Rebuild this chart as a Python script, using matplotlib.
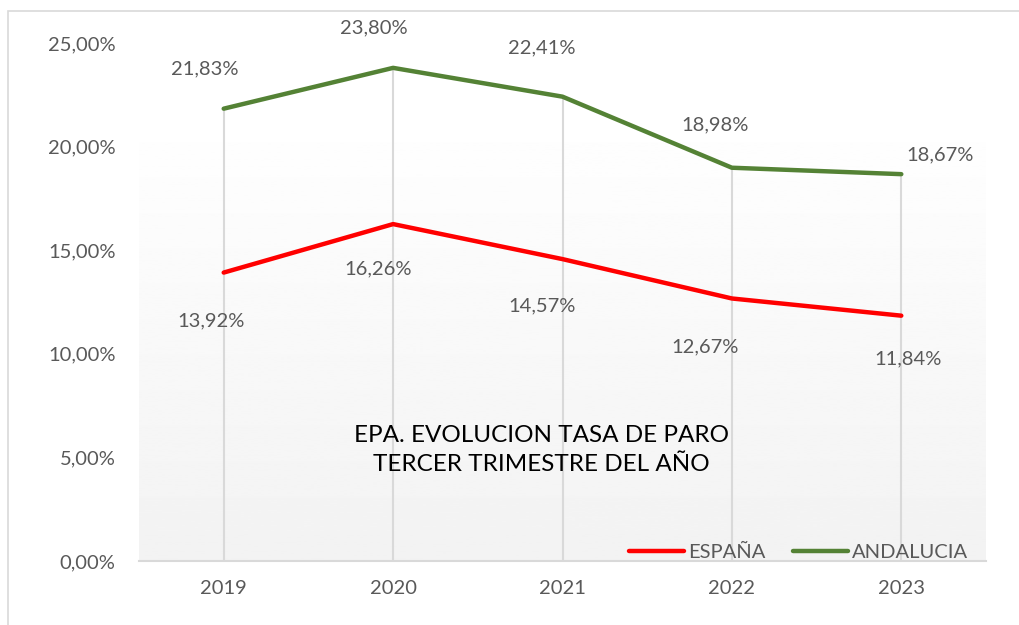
import numpy as np
import matplotlib as mpl
mpl.use('Agg')
import matplotlib.pyplot as plt
from matplotlib.patches import Rectangle

years = ['2019', '2020', '2021', '2022', '2023']
espana = [13.92, 16.26, 14.57, 12.67, 11.84]
andalucia = [21.83, 23.80, 22.41, 18.98, 18.67]

# label offsets in points (dx, dy) relative to each point
esp_off = [(-9, -35), (-11, -32), (-15, -34), (-19, -35), (5, -31)]
and_off = [(-14, 29), (-14, 29), (-15, 35), (-12, 31), (28, 14)]

plt.rcParams['font.family'] = ['Lato', 'DejaVu Sans']
grey = '#595959'

fig = plt.figure(figsize=(10.19, 6.25), dpi=100)
fig.patches.append(Rectangle((8/1019, -0.1), 1.2, 1 - 10.5/625 + 0.1, transform=fig.transFigure,
                             fill=False, edgecolor='#d9d9d9', lw=1.2))
ax = fig.add_axes([139/1019, 1 - 561/625, 847/1019, 518/625])

x = np.arange(len(years))

# gradient background
grad = np.linspace(1.0, 0.95, 256).reshape(-1, 1)
ax.imshow(grad, cmap='gray', vmin=0, vmax=1, extent=(-0.5, 4.5, 0, 21.9),
          aspect='auto', zorder=0)

# drop lines
tops = np.maximum(espana, andalucia)
ax.vlines(x, 0, tops, color='#d9d9d9', lw=1.5, zorder=1)

ax.plot(x, espana, color='#ff0000', lw=3.2, solid_capstyle='round', label='ESPAÑA', zorder=3)
ax.plot(x, andalucia, color='#548235', lw=3.2, solid_capstyle='round', label='ANDALUCIA', zorder=3)

for i in range(len(years)):
    ax.annotate(f'{espana[i]:.2f}%'.replace('.', ','), (x[i], espana[i]), xytext=esp_off[i],
                textcoords='offset points', ha='center', va='center', fontsize=14.5, color=grey)
    ax.annotate(f'{andalucia[i]:.2f}%'.replace('.', ','), (x[i], andalucia[i]), xytext=and_off[i],
                textcoords='offset points', ha='center', va='center', fontsize=14.5, color=grey)

ax.set_xlim(-0.5, 4.5)
ax.set_ylim(0, 25)
ax.set_xticks(x)
ax.set_xticklabels(years)
yt = [0, 5, 10, 15, 20, 25]
ax.set_yticks(yt)
ax.set_yticklabels([f'{v:.2f}%'.replace('.', ',') for v in yt])
ax.tick_params(length=0, labelsize=14.5, labelcolor=grey)
ax.tick_params(axis='y', pad=17)
ax.tick_params(axis='x', pad=14)
for s in ['top', 'right', 'left']:
    ax.spines[s].set_visible(False)
ax.spines['bottom'].set_color('#d9d9d9')
ax.spines['bottom'].set_linewidth(1.5)
ax.set_facecolor('white')

ax.text(0.4755, 0.214, 'EPA. EVOLUCION TASA DE PARO\nTERCER TRIMESTRE DEL AÑO', transform=ax.transAxes,
        ha='center', va='center', fontsize=17.5, color='black', linespacing=1.45)

ax.legend(loc='lower right', bbox_to_anchor=(1.0, -0.035), ncol=2, frameon=False, fontsize=14.5,
          labelcolor=grey, handlelength=2.7, handletextpad=0.2, columnspacing=1.4)

fig.savefig('out.png', dpi=100)
